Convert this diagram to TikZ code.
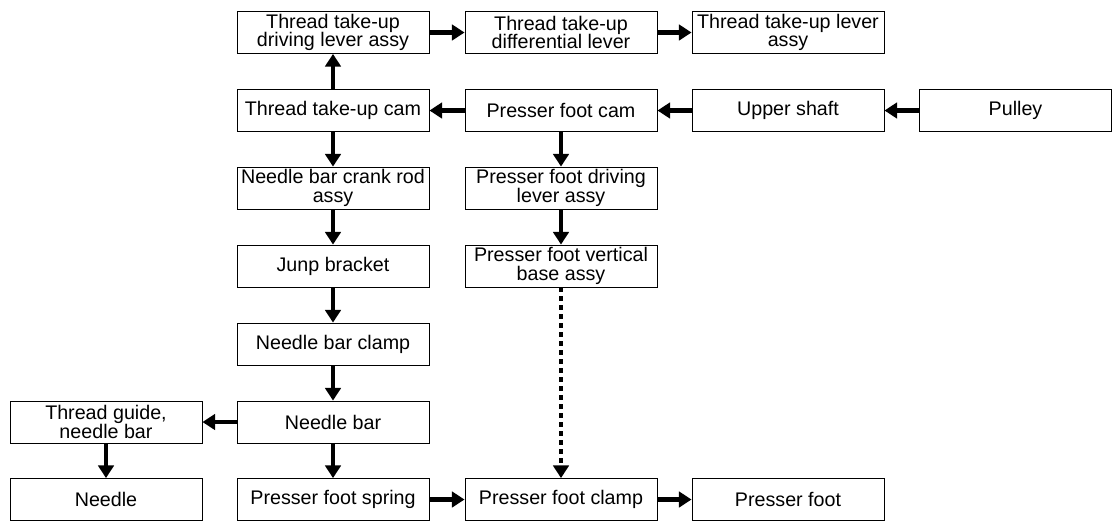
\documentclass[tikz,border=0pt]{standalone}
\usepackage{fontspec}
\setmainfont{Liberation Sans}
\usetikzlibrary{arrows.meta}

\begin{document}
\begin{tikzpicture}[x=0.025cm,y=-0.025cm,
  part/.style={draw,line width=0.6pt,minimum width=4.8cm,minimum height=1.05cm,inner sep=0pt,align=center,font=\fontsize{14}{13.2}\selectfont},
  flow/.style={line width=3.2pt,-{Triangle[length=9pt,width=11pt]}},
  link/.style={flow,dash pattern=on 3pt off 3.4pt}]

\useasboundingbox (0,0) rectangle (1119,529);

\node[part] (1) at (333,32.5){Thread take-up\\driving lever assy};
\node[part] (2) at (561,32.5){Thread take-up\\differential lever};
\node[part] (3) at (788,32.5){Thread take-up lever\\assy};
\node[part] (4) at (333,110.5){Thread take-up cam};
\node[part] (5) at (561,110.5){Presser foot cam};
\node[part] (6) at (788,110.5){Upper shaft};
\node[part] (7) at (1015.5,110.5){Pulley};
\node[part] (8) at (333,188){Needle bar crank rod\\assy};
\node[part] (9) at (561,188){Presser foot driving\\lever assy};
\node[part] (10) at (333,266){Junp bracket};
\node[part] (11) at (561,266){Presser foot vertical\\base assy};
\node[part] (12) at (333,344){Needle bar clamp};
\node[part] (13) at (106,422){Thread guide,\\needle bar};
\node[part] (14) at (333,422){Needle bar};
\node[part] (15) at (106,499.5){Needle};
\node[part] (16) at (333,499.5){Presser foot spring};
\node[part] (17) at (561,499.5){Presser foot clamp};
\node[part] (18) at (788,499.5){Presser foot};
\draw[flow] (1) -- (2);
\draw[flow] (2) -- (3);
\draw[flow] (7) -- (6);
\draw[flow] (6) -- (5);
\draw[flow] (5) -- (4);
\draw[flow] (4) -- (1);
\draw[flow] (4) -- (8);
\draw[flow] (8) -- (10);
\draw[flow] (10) -- (12);
\draw[flow] (12) -- (14);
\draw[flow] (14) -- (13);
\draw[flow] (13) -- (15);
\draw[flow] (14) -- (16);
\draw[flow] (5) -- (9);
\draw[flow] (9) -- (11);
\draw[link] (11) -- (17);
\draw[flow] (16) -- (17);
\draw[flow] (17) -- (18);

\end{tikzpicture}
\end{document}
